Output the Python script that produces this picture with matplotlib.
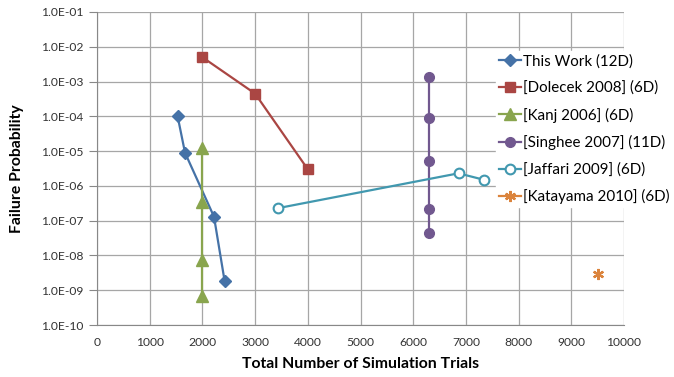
import matplotlib
matplotlib.use("Agg")
import matplotlib.pyplot as plt
from matplotlib.ticker import FixedLocator, FuncFormatter, NullLocator

plt.rcParams['font.family'] = ['Lato', 'DejaVu Sans']

this_x = [1530, 1670, 2220, 2420]
this_y = [1.0e-4, 9.0e-6, 1.3e-7, 1.9e-9]
dol_x = [2000, 3000, 4000]
dol_y = [5.0e-3, 4.5e-4, 3.0e-6]
kanj_x = [2000, 2000, 2000, 2000]
kanj_y = [1.2e-5, 3.5e-7, 7.5e-9, 6.6e-10]
sing_x = [6300, 6300, 6300, 6300, 6300]
sing_y = [1.35e-3, 9.0e-5, 5.1e-6, 2.2e-7, 4.3e-8]
jaf_x = [3440, 6860, 7340]
jaf_y = [2.3e-7, 2.3e-6, 1.5e-6]
kat_x = [9500]
kat_y = [3.0e-9]

labels = ["This Work (12D)", "[Dolecek 2008] (6D)", "[Kanj 2006] (6D)",
          "[Singhee 2007] (11D)", "[Jaffari 2009] (6D)", "[Katayama 2010] (6D)"]
x_ticks = [0, 1000, 2000, 3000, 4000, 5000, 6000, 7000, 8000, 9000, 10000]
y_ticks = [1e-10, 1e-9, 1e-8, 1e-7, 1e-6, 1e-5, 1e-4, 1e-3, 1e-2, 1e-1]

W, H = 674, 377
fig = plt.figure(figsize=(W / 100, H / 100), dpi=100)
ax = fig.add_axes([97 / W, 1 - 325 / H, (624 - 97) / W, (325 - 12) / H])

blue, red, green, purple, teal, orange = '#4572A7', '#AA4643', '#89A54E', '#71588F', '#4198AF', '#DB843D'

ax.plot(this_x, this_y, color=blue, marker='D', ms=6, lw=1.6, label=labels[0])
ax.plot(dol_x, dol_y, color=red, marker='s', ms=7, lw=1.6, label=labels[1])
ax.plot(kanj_x, kanj_y, color=green, marker='^', ms=8, lw=1.6, label=labels[2])
ax.plot(sing_x, sing_y, color=purple, marker='o', ms=7, lw=1.6, label=labels[3])
ax.plot(jaf_x, jaf_y, color=teal, marker='o', ms=7, mfc='white', mew=1.5, lw=1.6, label=labels[4])
ax.plot(kat_x, kat_y, color=orange, marker=(6, 2, 0), ms=8, mew=1.6, lw=1.6, label=labels[5])

ax.set_yscale('log')
ax.set_xlim(0, 10000)
ax.set_ylim(1e-10, 1e-1)
ax.xaxis.set_major_locator(FixedLocator(x_ticks))
ax.yaxis.set_major_locator(FixedLocator(y_ticks))
ax.yaxis.set_minor_locator(NullLocator())
ax.yaxis.set_major_formatter(FuncFormatter(lambda v, p: "%.1E" % v))
ax.xaxis.set_major_formatter(FuncFormatter(lambda v, p: "%d" % v))
ax.tick_params(labelsize=8.7, colors='#333333', length=6, color='#888888', pad=4)
ax.tick_params(axis='x', length=0, pad=9)
ax.grid(True, color='#a6a6a6', lw=0.9)
ax.set_axisbelow(True)
for s in ['top', 'right']:
    ax.spines[s].set_visible(False)
for s in ['left', 'bottom']:
    ax.spines[s].set_color('#888888')

ax.set_xlabel("Total Number of Simulation Trials", fontsize=11.3, fontweight='bold', labelpad=6)
ax.set_ylabel("Failure Probability", fontsize=11.3, fontweight='bold', labelpad=12)

leg = fig.legend(loc='upper left', bbox_to_anchor=(496 / W, 1 - 51 / H),
                 fontsize=10.9, frameon=True, fancybox=False, edgecolor='white',
                 facecolor='white', framealpha=1, handlelength=1.45, handletextpad=0.12,
                 labelspacing=0.82, borderpad=0.2, borderaxespad=0)

fig.savefig("out.png", dpi=100)
